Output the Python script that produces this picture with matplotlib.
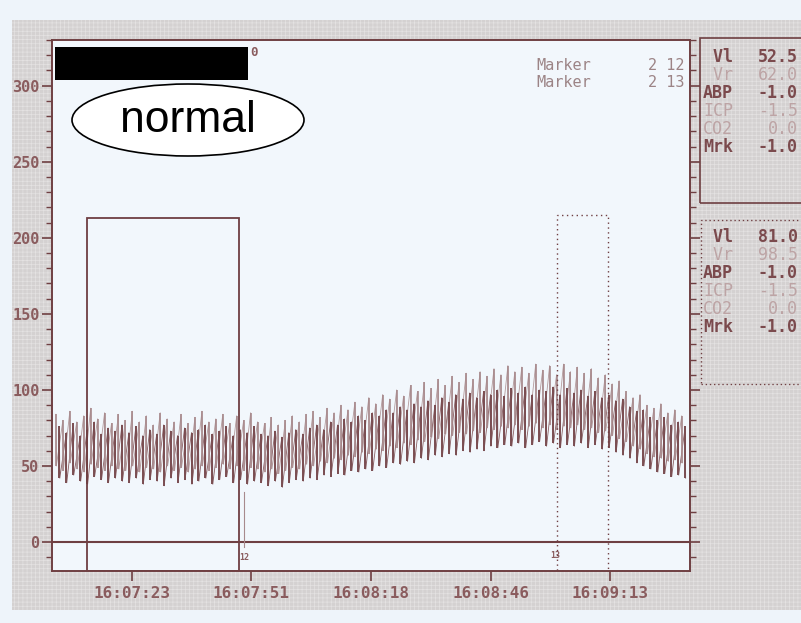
import numpy as np
import matplotlib.pyplot as plt
from matplotlib.patches import Rectangle, Ellipse

W, H = 801, 623

# eixo x em segundos depois de 16:07:00
xmin, xmax = 4.6, 151.4
ymin, ymax = -19, 330
tick_pos = [23, 50.4, 78, 105.6, 133]
tick_lab = ['16:07:23', '16:07:51', '16:08:18', '16:08:46', '16:09:13']

# picos e vales por batimento
vr_pico = [84, 80, 86, 79, 83, 88, 81, 85, 78, 84,
           80, 86, 79, 83, 77, 85, 81, 79, 84, 78,
           82, 86, 79, 81, 84, 78, 83, 80, 85, 79,
           78, 82, 77, 80, 83, 79, 84, 86, 82, 88,
           85, 90, 87, 92, 89, 95, 91, 97, 94, 100,
           96, 103, 99, 105, 101, 107, 103, 109, 105, 111,
           107, 112, 109, 114, 110, 116, 112, 115, 111, 117,
           113, 116, 110, 117, 112, 115, 111, 114, 108, 110,
           104, 106, 99, 95, 97, 90, 88, 91, 85, 87, 83]
vr_vale = [50, 47, 52, 48, 46, 51, 49, 47, 50, 48,
           47, 50, 46, 49, 48, 46, 50, 47, 49, 46,
           48, 50, 47, 49, 51, 48, 50, 47, 49, 48,
           46, 48, 45, 47, 49, 48, 51, 50, 53, 52,
           55, 54, 57, 56, 59, 58, 61, 60, 63, 62,
           65, 64, 67, 66, 69, 68, 71, 70, 72, 71,
           73, 72, 75, 74, 76, 75, 77, 74, 76, 78,
           75, 77, 74, 76, 75, 77, 74, 75, 72, 73,
           70, 68, 66, 63, 61, 58, 56, 55, 53, 54, 52]
vl_pico = [76, 72, 78, 70, 74, 79, 71, 75, 73, 77,
           72, 76, 70, 74, 71, 77, 73, 70, 75, 72,
           74, 77, 71, 73, 76, 70, 74, 72, 76, 71,
           70, 73, 69, 72, 74, 71, 75, 77, 74, 79,
           77, 81, 79, 83, 80, 85, 83, 87, 85, 89,
           87, 91, 89, 93, 90, 95, 92, 97, 94, 98,
           95, 99, 97, 100, 96, 101, 98, 102, 97, 100,
           99, 102, 97, 101, 98, 100, 96, 99, 95, 97,
           93, 94, 89, 86, 87, 82, 80, 82, 77, 79, 76]
vl_vale = [42, 39, 44, 40, 38, 43, 41, 39, 42, 40,
           39, 42, 38, 41, 40, 37, 42, 39, 41, 38,
           40, 42, 38, 41, 43, 39, 41, 38, 40, 39,
           37, 40, 36, 39, 41, 40, 42, 41, 44, 43,
           45, 44, 47, 46, 48, 47, 50, 49, 52, 51,
           53, 52, 55, 54, 57, 56, 58, 57, 60, 59,
           61, 60, 63, 62, 64, 63, 65, 62, 64, 66,
           63, 65, 62, 64, 63, 65, 62, 64, 61, 62,
           59, 57, 55, 52, 50, 48, 46, 45, 43, 44, 42]

# caixas: (inicio, fim, topo)
caixa_normal = (12.65, 47.6, 213)
caixa_pontilhada = (120.8, 132.5, 215)
marcador_12 = (48.8, -3, 33)

painel1 = [(' Vl', '52.5', True), (' Vr', '62.0', False), ('ABP', '-1.0', True),
           ('ICP', '-1.5', False), ('CO2', '0.0', False), ('Mrk', '-1.0', True)]
painel2 = [(' Vl', '81.0', True), (' Vr', '98.5', False), ('ABP', '-1.0', True),
           ('ICP', '-1.5', False), ('CO2', '0.0', False), ('Mrk', '-1.0', True)]

marrom = '#6f3f42'
texto = '#8a5c5e'
claro = '#bda4a5'
mono = 'DejaVu Sans Mono'

plt.rcParams['hatch.linewidth'] = 0.5

def fx(px):
    return px / W

def fy(py):
    return 1 - py / H

fig = plt.figure(figsize=(W / 100, H / 100), dpi=100, facecolor='#eef4fa')

# fundo cinza quadriculado do papel
fig.patches.append(Rectangle((fx(12), fy(610)), fx(789), 590 / H, transform=fig.transFigure,
                             facecolor='#d4d1d1', edgecolor='#e4e2e2', hatch='++++',
                             lw=0, zorder=-5))

ax = fig.add_axes([fx(52), fy(571), fx(638), 531 / H])
ax.set_facecolor('#f2f7fc')

# cada batimento vira um traco vertical do vale ao pico
t = np.linspace(5.5, 149.5, len(vr_pico))
x_vr = np.column_stack([t, t + 0.1]).ravel()
y_vr = np.column_stack([vr_pico, vr_vale]).ravel()
x_vl = np.column_stack([t + 0.8, t + 0.9]).ravel()
y_vl = np.column_stack([vl_pico, vl_vale]).ravel()
ax.plot(x_vr, y_vr, color='#b39a9c', lw=0.6)
ax.plot(x_vl, y_vl, color='#8a6064', lw=0.6)
ax.vlines(t, vr_vale, vr_pico, color='#a88a8d', lw=1.2)
ax.vlines(t + 0.8, vl_vale, vl_pico, color='#7a4d51', lw=1.4)

ax.axhline(0, color=marrom, lw=1.5)

a, b, topo = caixa_normal
ax.add_patch(Rectangle((a, ymin), b - a, topo - ymin, fill=False, edgecolor=marrom, lw=1.3, zorder=4))
a, b, topo = caixa_pontilhada
ax.add_patch(Rectangle((a, ymin), b - a, topo - ymin, fill=False, edgecolor=marrom, lw=1.0,
                       linestyle=(0, (1, 2.5)), zorder=4))
ax.plot([marcador_12[0]] * 2, marcador_12[1:], color='#a88a8d', lw=0.8)
ax.text(marcador_12[0], -10, '12', fontsize=6, family=mono, weight='bold', color=texto, ha='center', va='center')
ax.text(caixa_pontilhada[0] - 0.5, -9, '13', fontsize=6, family=mono, weight='bold', color=texto, ha='center', va='center')

ax.set_xlim(xmin, xmax)
ax.set_ylim(ymin, ymax)
ax.set_xticks(tick_pos)
ax.set_xticklabels(tick_lab)
ax.set_yticks(range(0, 301, 50))
ax.set_yticks(range(-10, 331, 10), minor=True)
ax.tick_params(axis='both', which='major', direction='out', color=marrom, width=1.2,
               labelcolor=texto, labelsize=11, length=7, pad=2)
ax.tick_params(axis='y', which='both', right=True)
ax.tick_params(axis='y', which='minor', length=4, color=marrom, width=1)
ax.tick_params(axis='x', which='major', pad=4, labelsize=11.5)
for lab in ax.get_xticklabels() + ax.get_yticklabels():
    lab.set_family(mono)
    lab.set_weight('bold')
for s in ax.spines.values():
    s.set_color(marrom)
    s.set_linewidth(1.4)

ax.text(0.759, 0.952, 'Marker', transform=ax.transAxes, family=mono, fontsize=11, color='#9c8486', va='center')
ax.text(0.991, 0.952, '2 12', transform=ax.transAxes, family=mono, fontsize=11, color='#9c8486', va='center', ha='right')
ax.text(0.759, 0.920, 'Marker', transform=ax.transAxes, family=mono, fontsize=11, color='#9c8486', va='center')
ax.text(0.991, 0.920, '2 13', transform=ax.transAxes, family=mono, fontsize=11, color='#9c8486', va='center', ha='right')

# tarja preta e o rotulo "normal"
fig.patches.append(Rectangle((fx(55), fy(80)), fx(193), 33 / H, transform=fig.transFigure,
                             facecolor='black', edgecolor='none', zorder=5))
fig.text(fx(250), fy(52), '0', family=mono, weight='bold', fontsize=9, color=texto, va='center')
fig.patches.append(Ellipse((fx(188), fy(120)), fx(232), 72 / H, transform=fig.transFigure,
                           facecolor='white', edgecolor='black', lw=1.2, zorder=5))
fig.text(fx(188), fy(121), 'normal', family='Liberation Sans', fontsize=32, color='black',
         ha='center', va='center', zorder=6)

# paineis da direita
fig.patches.append(Rectangle((fx(700), fy(203)), fx(110), 165 / H, transform=fig.transFigure,
                             fill=False, edgecolor=marrom, lw=1.2, zorder=2))
fig.patches.append(Rectangle((fx(701), fy(384)), fx(110), 164 / H, transform=fig.transFigure,
                             fill=False, edgecolor=marrom, lw=1.0, linestyle=(0, (1, 2)), zorder=2))
for painel, y0 in [(painel1, 57), (painel2, 237)]:
    for i, (nome, valor, forte) in enumerate(painel):
        cor = '#7b4a4d' if forte else claro
        peso = 'bold' if forte else 'normal'
        fig.text(fx(703), fy(y0 + 18 * i), nome, family=mono, fontsize=12, weight=peso, color=cor, va='center')
        fig.text(fx(798), fy(y0 + 18 * i), valor, family=mono, fontsize=12, weight=peso, color=cor,
                 va='center', ha='right')

fig.savefig('out.png', dpi=100, facecolor=fig.get_facecolor())
